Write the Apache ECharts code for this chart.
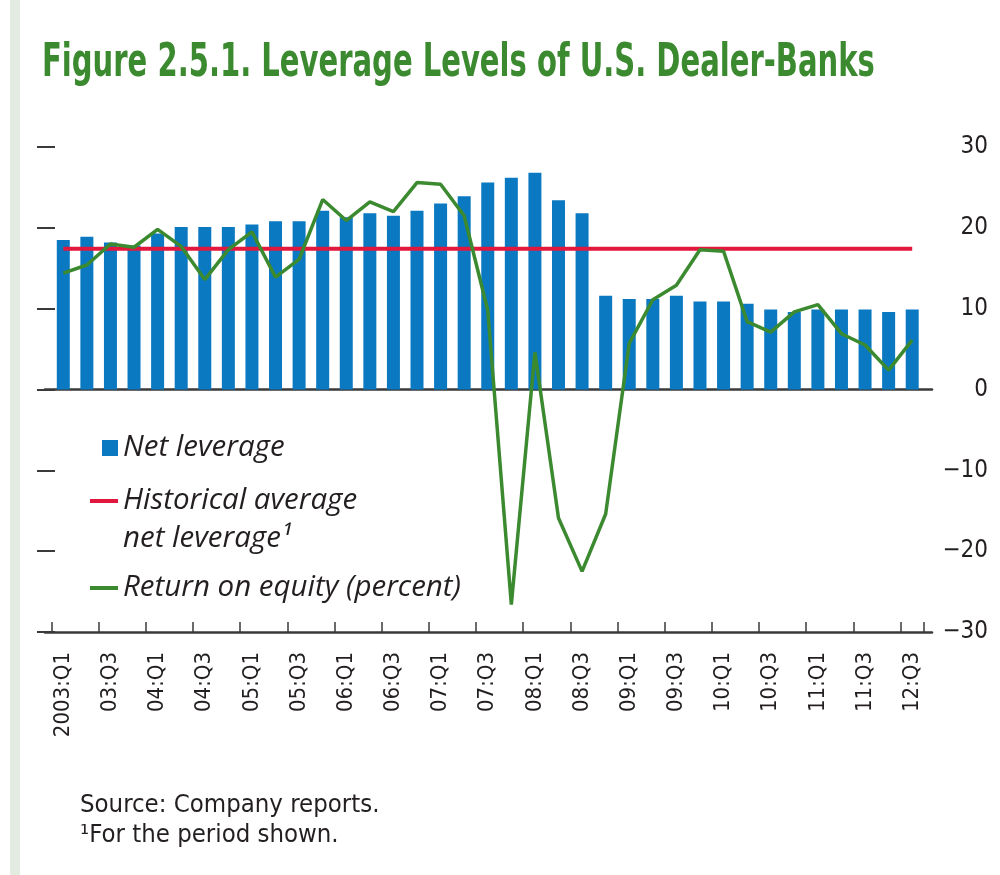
<!DOCTYPE html>
<html>
<head>
<meta charset="utf-8">
<script src="https://cdn.jsdelivr.net/npm/echarts@6/dist/echarts.min.js"></script>
<style>
  html, body { margin: 0; padding: 0; background: #ffffff; }
  #chart { width: 1000px; height: 875px; }
</style>
</head>
<body>
<div id="chart"></div>
<script>
// ---- Data ----
const quarters = [
  '2003:Q1','03:Q2','03:Q3','03:Q4',
  '04:Q1','04:Q2','04:Q3','04:Q4',
  '05:Q1','05:Q2','05:Q3','05:Q4',
  '06:Q1','06:Q2','06:Q3','06:Q4',
  '07:Q1','07:Q2','07:Q3','07:Q4',
  '08:Q1','08:Q2','08:Q3','08:Q4',
  '09:Q1','09:Q2','09:Q3','09:Q4',
  '10:Q1','10:Q2','10:Q3','10:Q4',
  '11:Q1','11:Q2','11:Q3','11:Q4',
  '12:Q3'
];
const tickLabels = [
  '2003:Q1','03:Q3','04:Q1','04:Q3','05:Q1','05:Q3','06:Q1','06:Q3',
  '07:Q1','07:Q3','08:Q1','08:Q3','09:Q1','09:Q3','10:Q1','10:Q3',
  '11:Q1','11:Q3','12:Q3'
];
const netLeverage = [
  18.5, 18.9, 18.2, 17.8, 19.3, 20.1, 20.1, 20.1, 20.4, 20.8,
  20.8, 22.1, 21.3, 21.8, 21.5, 22.1, 23.0, 23.9, 25.6, 26.2,
  26.8, 23.4, 21.8, 11.6, 11.2, 11.2, 11.6, 10.9, 10.9, 10.6,
  9.9, 9.6, 9.9, 9.9, 9.9, 9.6, 9.9
];
const historicalAverageValue = 17.4;
const returnOnEquity = [
  14.4, 15.4, 18.0, 17.6, 19.8, 17.7, 13.6, 17.3, 19.5, 13.9,
  16.1, 23.5, 20.9, 23.2, 22.0, 25.6, 25.4, 21.5, 9.8, -26.6,
  4.6, -15.9, -22.5, -15.4, 5.7, 11.1, 12.9, 17.3, 17.1, 8.4,
  7.1, 9.6, 10.5, 6.9, 5.5, 2.4, 6.1
];
const yMin = -30, yMax = 30, yStep = 10;

// ---- Styling ----
const BLUE = '#0a79c2';
const RED = '#e2173d';
const GREEN = '#3c8a30';
const TEXT = '#231f20';
const AXIS = '#3a3a3a';
const NARROW = "'DejaVu Sans Condensed', 'Liberation Sans Narrow', sans-serif";
const LEGENDFONT = "'Open Sans', 'Noto Sans', sans-serif";

const chart = echarts.init(document.getElementById('chart'), null, { renderer: 'canvas' });

const legendText = { color: TEXT, fontStyle: 'italic', fontFamily: LEGENDFONT, fontSize: 29.5 };

const option = {
  backgroundColor: '#ffffff',
  animation: false,
  title: [
    {
      text: 'Source: Company reports.\n\u00b9For the period shown.',
      left: 80, top: 790, padding: 0,
      textStyle: { color: TEXT, fontFamily: NARROW, fontWeight: 'normal', fontSize: 25.5, lineHeight: 30 }
    }
  ],
  graphic: [
    { type: 'rect', left: 10, top: 0, shape: { width: 10, height: 875 }, style: { fill: '#e3ece0' }, silent: true },
    {
      type: 'text', x: 42, y: 41, scaleX: 0.702, silent: true,
      style: {
        text: 'Figure 2.5.1. Leverage Levels of U.S. Dealer-Banks',
        fill: GREEN, fontFamily: "'DejaVu Sans Condensed', 'DejaVu Sans', sans-serif",
        fontWeight: 'bold', fontSize: 46, textVerticalAlign: 'top', verticalAlign: 'top'
      }
    }
  ],
  legend: [
    {
      data: [{ name: 'Net leverage', icon: 'rect' }],
      left: 102, top: 431, padding: 0, orient: 'vertical',
      itemWidth: 16, itemHeight: 16, selectedMode: false,
      textStyle: Object.assign({ lineHeight: 34 }, legendText)
    },
    {
      data: [{ name: 'Historical average net leverage', icon: 'rect' }],
      left: 90, top: 444, padding: 0, orient: 'vertical',
      itemWidth: 28, itemHeight: 4, selectedMode: false,
      formatter: () => '\u00a0\nHistorical average\nnet leverage\u00b9',
      textStyle: Object.assign({ lineHeight: 38 }, legendText)
    },
    {
      data: [{ name: 'Return on equity (percent)', icon: 'rect' }],
      left: 90, top: 571, padding: 0, orient: 'vertical',
      itemWidth: 28, itemHeight: 4, selectedMode: false,
      textStyle: Object.assign({ lineHeight: 34 }, legendText)
    }
  ],
  grid: [
    { left: 51.5, right: 76, top: 147, bottom: 243, containLabel: false },
    { left: 45, right: 68, top: 147, bottom: 243, containLabel: false }
  ],
  xAxis: [
    {
      gridIndex: 0, type: 'category', data: quarters, boundaryGap: true,
      axisLine: { show: false, onZero: false },
      axisTick: { show: true, inside: true, interval: 1, length: 10, lineStyle: { color: AXIS, width: 1.5 } },
      axisLabel: {
        interval: 1, rotate: 90, margin: 20,
        color: TEXT, fontFamily: NARROW, fontSize: 22,
        formatter: (v, i) => tickLabels[i / 2]
      },
      splitLine: { show: false }
    },
    {
      gridIndex: 1, type: 'value', min: 0, max: 1,
      axisLine: { show: true, onZero: true, lineStyle: { color: AXIS, width: 2.5 } },
      axisTick: { show: false }, axisLabel: { show: false }, splitLine: { show: false }
    },
    {
      gridIndex: 1, type: 'value', min: 0, max: 1, position: 'bottom',
      axisLine: { show: true, onZero: false, lineStyle: { color: AXIS, width: 2.5 } },
      axisTick: { show: false }, axisLabel: { show: false }, splitLine: { show: false }
    }
  ],
  yAxis: [
    {
      gridIndex: 0, type: 'value', min: yMin, max: yMax, interval: yStep, show: false,
      splitLine: { show: false }
    },
    {
      gridIndex: 1, type: 'value', min: yMin, max: yMax, interval: yStep, position: 'left',
      axisLine: { show: false },
      axisTick: { show: true, inside: true, length: 10, lineStyle: { color: AXIS, width: 2 } },
      axisLabel: { show: false }, splitLine: { show: false }
    },
    {
      gridIndex: 1, type: 'value', min: yMin, max: yMax, interval: yStep, position: 'right',
      axisLine: { show: false },
      axisTick: { show: true, inside: true, length: 8, lineStyle: { color: AXIS, width: 2 } },
      axisLabel: {
        show: true, inside: false, margin: 56, align: 'right',
        color: TEXT, fontFamily: NARROW, fontSize: 24,
        formatter: v => (v < 0 ? '\u2212' + Math.abs(v) : String(v))
      },
      splitLine: { show: false }
    }
  ],
  series: [
    {
      name: 'Net leverage', type: 'bar', xAxisIndex: 0, yAxisIndex: 0,
      data: netLeverage, barWidth: 13,
      itemStyle: { color: BLUE }, z: 2
    },
    {
      name: 'Historical average net leverage', type: 'line', xAxisIndex: 0, yAxisIndex: 0,
      data: quarters.map(() => historicalAverageValue),
      symbol: 'none', lineStyle: { color: RED, width: 4 }, itemStyle: { color: RED }, z: 3
    },
    {
      name: 'Return on equity (percent)', type: 'line', xAxisIndex: 0, yAxisIndex: 0,
      data: returnOnEquity,
      symbol: 'none', lineStyle: { color: GREEN, width: 3.5 }, itemStyle: { color: GREEN }, z: 4
    }
  ]
};
chart.setOption(option);
</script>
</body>
</html>
